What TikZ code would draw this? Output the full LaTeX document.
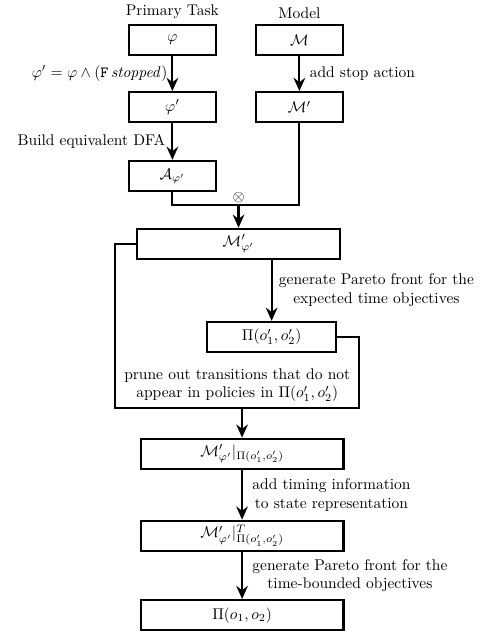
\documentclass[tikz,border=0pt]{standalone}
\usetikzlibrary{positioning,arrows.meta}
\begin{document}
\begin{tikzpicture}[
    box/.style={draw,line width=1.4pt,minimum height=0.68cm,inner sep=2pt},
    smallbox/.style={box,minimum width=1.97cm},
    widebox/.style={box,minimum width=4.6cm},
    flow/.style={-{Stealth[length=8.5pt,width=7.5pt]},line width=1.4pt},
    wire/.style={line width=1.4pt},
    note/.style={align=center,inner sep=5pt}
  ]
  \useasboundingbox (0,0) rectangle (11.05,-14.31);
  \node[smallbox] (task) at (3.91,-0.91) {$\varphi$};
  \node[smallbox] (model) at (6.79,-0.91) {$\mathcal{M}$};
  \node[above=0pt of task] (tasktitle) {Primary Task};
  \node[above=0pt of model] (modeltitle) {Model};
  \node[smallbox] (taskp) at (3.91,-2.43) {$\varphi'$};
  \node[smallbox] (modelp) at (6.79,-2.43) {$\mathcal{M}'$};
  \node[smallbox] (dfa) at (3.91,-3.99) {$\mathcal{A}_{\varphi'}$};
  \node[widebox] (prod) at (5.41,-5.53) {$\mathcal{M}'_{\varphi'}$};
  \node[box,minimum width=2.93cm] (front1) at (6.16,-7.64) {$\Pi(o'_1,o'_2)$};
  \node[widebox] (restr) at (5.49,-10.29) {$\mathcal{M}'_{\varphi'}|_{\Pi(o'_1,o'_2)}$};
  \node[widebox] (timed) at (5.49,-12.15) {$\mathcal{M}'_{\varphi'}|^{T}_{\Pi(o'_1,o'_2)}$};
  \node[widebox] (front2) at (5.49,-13.95) {$\Pi(o_1,o_2)$};

  \draw[flow] (task) -- node[left,note,inner sep=2.5pt] {$\varphi' = \varphi \wedge (\mathtt{F}\,\mathit{stopped})$} (taskp);
  \draw[flow] (model) -- node[right,note,inner sep=6pt] {add stop action} (modelp);
  \draw[flow] (taskp) -- node[left,note,inner sep=4pt] {Build equivalent DFA} (dfa);

  % product of DFA and model
  \coordinate (join) at (5.41,-4.65);
  \draw[wire] (dfa.south) |- (join) -| (modelp.south);
  \node[above=0pt of join,inner sep=1.5pt] (otimes) {$\otimes$};
  \draw[flow] (join) -- (prod.north);

  \draw[flow] (prod.south -| front1.north) -- node[right,note,inner sep=4pt] {generate Pareto front for the\\expected time objectives} (front1.north);

  % pruning loop
  \coordinate (loopL) at (2.61,-9.25);
  \coordinate (loopR) at (8.14,-9.25);
  \draw[wire] (prod.west) -| (loopL) -- (loopR) |- (front1.east);
  \node[note] (prune) at (5.38,-8.73) {prune out transitions that do not\\appear in policies in $\Pi(o'_1,o'_2)$};
  \draw[flow] (loopL -| restr.north) -- (restr.north);

  \draw[flow] (restr) -- node[right,note,inner sep=6pt] {add timing information\\to state representation} (timed);
  \draw[flow] (timed) -- node[right,note,inner sep=6pt] {generate Pareto front for the\\time-bounded objectives} (front2);
\end{tikzpicture}
\end{document}
